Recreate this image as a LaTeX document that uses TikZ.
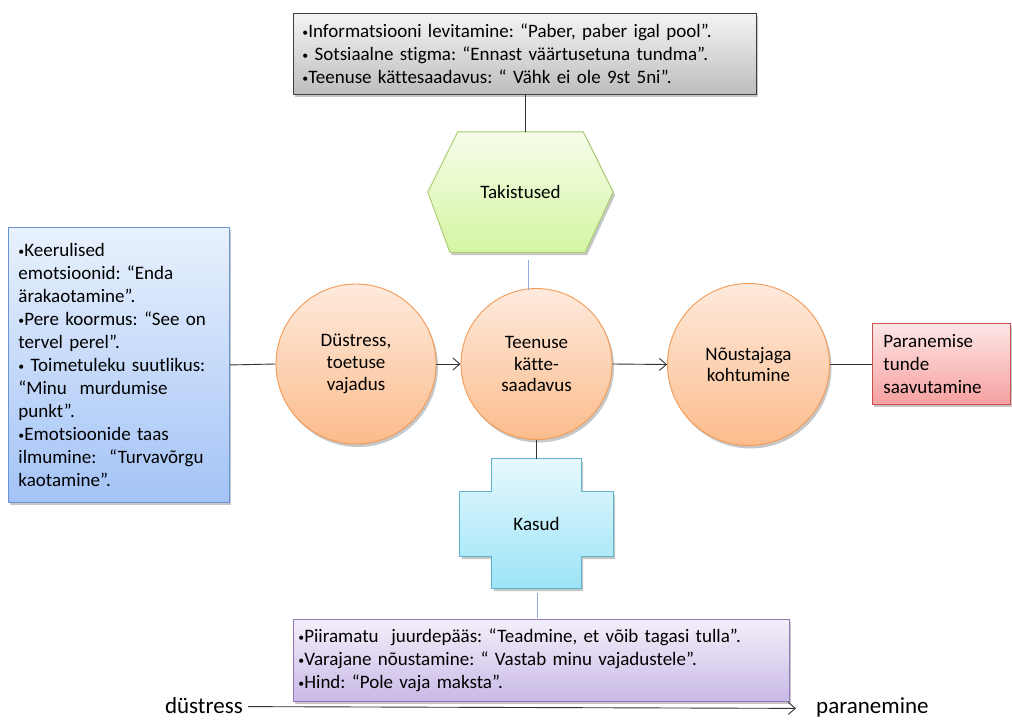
\documentclass[tikz,border=0pt]{standalone}
\usepackage{fontspec}
\setmainfont{Carlito}[RawFeature={-liga;-clig;-dlig}]
\usetikzlibrary{arrows.meta,shadows,backgrounds}
\frenchspacing
\newcommand\bul{\raisebox{0.12ex}{\scalebox{0.62}{•}}}
\definecolor{grayTop}{HTML}{F4F4F4}
\definecolor{grayBot}{HTML}{BDBDBD}
\definecolor{grayLine}{HTML}{3F3F3F}
\definecolor{hexTop}{HTML}{F6FDEA}
\definecolor{hexBot}{HTML}{D5F5A2}
\definecolor{hexLine}{HTML}{A3CC68}
\definecolor{cirTop}{HTML}{FEEADD}
\definecolor{cirBot}{HTML}{FBBC8C}
\definecolor{cirLine}{HTML}{F39A55}
\definecolor{bluTop}{HTML}{E9F1FD}
\definecolor{bluBot}{HTML}{A3C3F6}
\definecolor{bluLine}{HTML}{6A95D4}
\definecolor{redTop}{HTML}{FDE6E6}
\definecolor{redBot}{HTML}{F6A0A0}
\definecolor{redLine}{HTML}{C9504F}
\definecolor{cyaTop}{HTML}{E6F8FD}
\definecolor{cyaBot}{HTML}{9CE4F7}
\definecolor{cyaLine}{HTML}{5EB4CC}
\definecolor{purTop}{HTML}{F3EFF9}
\definecolor{purBot}{HTML}{C9B9E7}
\definecolor{purLine}{HTML}{9278B4}
\definecolor{thinBlue}{HTML}{8FAADC}
\begin{document}
\begin{tikzpicture}[x=1pt,y=-1pt,
  txt/.style={font=\fontsize{19}{23}\selectfont},
  shad/.style={drop shadow={shadow xshift=2pt,shadow yshift=-3pt,opacity=0.22,fill=black}},
  tbox/.style={rectangle, draw, line width=0.9pt, inner ysep=0pt, txt, align=left, anchor=north west, shad},
  circ/.style={circle, draw=cirLine, line width=0.9pt, top color=cirTop, bottom color=cirBot, inner sep=0pt, align=center, font=\fontsize{19}{21.7}\selectfont, shad},
  conn/.style={line width=0.9pt, draw=black!80},
  bconn/.style={line width=0.9pt, draw=thinBlue},
  arr/.style={conn, -{Straight Barb[length=7pt,width=12pt,line width=0.9pt]}},
  axlab/.style={font=\fontsize{23}{27}\selectfont, inner sep=1pt},
]
\useasboundingbox (0,0) rectangle (1012,720);

% top gray box
\node[tbox, draw=grayLine, top color=grayTop, bottom color=grayBot,
      minimum width=463pt, minimum height=81pt, inner xsep=9pt, text width=445pt]
  (top) at (293,13)
  {\bul Informatsiooni levitamine: “Paber, paber igal pool”.\\
   \bul{} Sotsiaalne stigma: “Ennast väärtusetuna tundma”.\\
   \bul Teenuse kättesaadavus: “ Vähk ei ole 9st 5ni”.};

% left blue box
\node[tbox, draw=bluLine, top color=bluTop, bottom color=bluBot,
      minimum width=221pt, minimum height=275pt, inner xsep=10pt, text width=201pt]
  (blue) at (8,227)
  {\bul Keerulised\\
   emotsioonid: “Enda\\
   ärakaotamine”.\\
   \bul Pere koormus: “See on\\
   tervel perel”.\\
   \bul{} Toimetuleku suutlikus:\\
   “Minu\ \ murdumise\\
   punkt”.\\
   \bul Emotsioonide taas\\
   ilmumine:\ \ “Turvavõrgu\\
   kaotamine”.};

% right red box
\node[tbox, draw=redLine, top color=redTop, bottom color=redBot,
      minimum width=138pt, minimum height=81pt, inner xsep=11pt, text width=116pt]
  (red) at (872,323)
  {Paranemise\\tunde\\saavutamine};

% bottom purple box
\node[tbox, draw=purLine, top color=purTop, bottom color=purBot,
      minimum width=496pt, minimum height=82pt, inner xsep=5pt, text width=486pt]
  (pur) at (293,619)
  {\bul Piiramatu\ \ juurdepääs: “Teadmine, et võib tagasi tulla”.\\
   \bul Varajane nõustamine: “ Vastab minu vajadustele”.\\
   \bul Hind: “Pole vaja maksta”.};

% circles
\node[circ, minimum size=160pt] (c1) at (356,364) {Düstress,\\toetuse\\vajadus};
\node[circ, minimum size=151pt] (c2) at (536.5,364) {Teenuse\\kätte-\\saadavus};
\node[circ, minimum size=162pt] (c3) at (748.5,364.5) {Nõustajaga\\kohtumine};

% hexagon and cross (text nodes, outlines on background)
\node[rectangle, inner sep=0pt, minimum width=185pt, minimum height=120pt, txt] (hex) at (520.5,192) {Takistused};
\node[rectangle, inner sep=0pt, minimum width=153pt, minimum height=129pt, txt] (kas) at (536.5,523.5) {Kasud};
\begin{scope}[on background layer]
  \path[draw=hexLine, line width=0.9pt, top color=hexTop, bottom color=hexBot, shad]
    (hex.west) -- ([xshift=30pt]hex.north west) -- ([xshift=-30pt]hex.north east)
    -- (hex.east) -- ([xshift=-28pt]hex.south east) -- ([xshift=22pt]hex.south west) -- cycle;
  \path[draw=cyaLine, line width=0.9pt, top color=cyaTop, bottom color=cyaBot, shad]
    ([xshift=32pt]kas.north west) -- ([xshift=-32pt]kas.north east)
    -- ([xshift=-32pt,yshift=-33pt]kas.north east) -- ([yshift=-33pt]kas.north east)
    -- ([yshift=32pt]kas.south east) -- ([xshift=-32pt,yshift=32pt]kas.south east)
    -- ([xshift=-32pt]kas.south east) -- ([xshift=32pt]kas.south west)
    -- ([xshift=32pt,yshift=32pt]kas.south west) -- ([yshift=32pt]kas.south west)
    -- ([yshift=-33pt]kas.north west) -- ([xshift=32pt,yshift=-33pt]kas.north west) -- cycle;
\end{scope}

% connectors
\draw[conn] (top.south) -- (top.south |- hex.north);
\coordinate (b1) at (528,260);
\coordinate (b2) at (528,290);
\draw[bconn] (b1) -- (b2);
\draw[conn] (blue.east) -- (c1.west);
\draw[arr] (c1.east) -- (c2.west);
\draw[arr] (c2.east) -- (c3.west);
\draw[conn] (c3.east) -- (c3.east -| red.west);
\draw[conn] (c2.south) -- (kas.north);
\coordinate (b3) at (537,593);
\coordinate (b4) at (537,618);
\draw[bconn] (b3) -- (b4);

% bottom axis
\node[axlab, anchor=base east] (ld) at (244,713.5) {düstress};
\node[axlab, anchor=base west] (rd) at (815,713.5) {paranemine};
\draw[arr, shorten <=4pt, shorten >=19pt] ([yshift=-1pt]ld.east) -- ([yshift=-1pt]rd.west);
\end{tikzpicture}
\end{document}
